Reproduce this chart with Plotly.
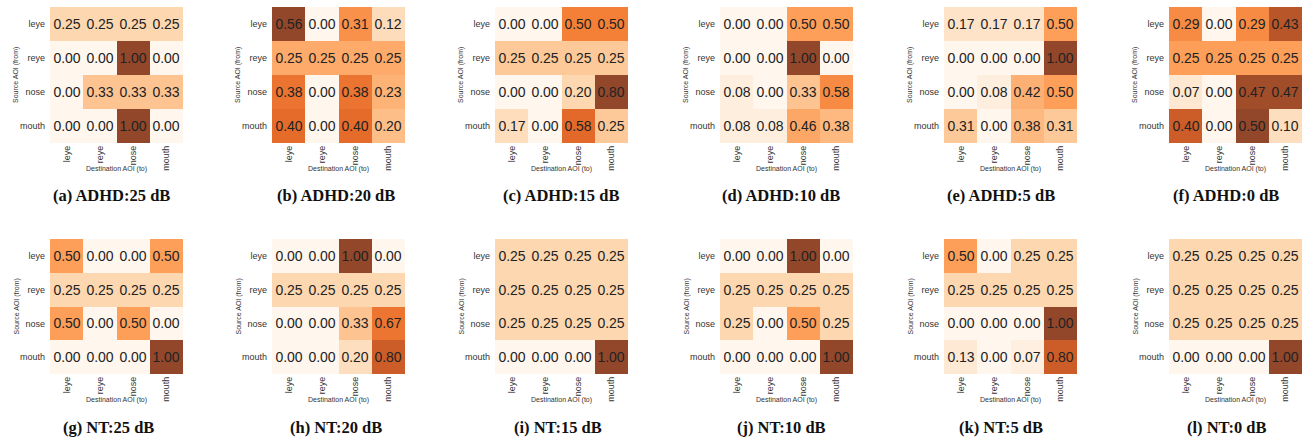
import plotly.graph_objects as go

aois = ["leye", "reye", "nose", "mouth"]
captions = ["(a) ADHD:25 dB", "(b) ADHD:20 dB", "(c) ADHD:15 dB", "(d) ADHD:10 dB",
            "(e) ADHD:5 dB", "(f) ADHD:0 dB",
            "(g) NT:25 dB", "(h) NT:20 dB", "(i) NT:15 dB", "(j) NT:10 dB",
            "(k) NT:5 dB", "(l) NT:0 dB"]

adhd_25 = [[.25, .25, .25, .25], [0, 0, 1, 0], [0, .33, .33, .33], [0, 0, 1, 0]]
adhd_20 = [[.56, 0, .31, .12], [.25, .25, .25, .25], [.38, 0, .38, .23], [.40, 0, .40, .20]]
adhd_15 = [[0, 0, .50, .50], [.25, .25, .25, .25], [0, 0, .20, .80], [.17, 0, .58, .25]]
adhd_10 = [[0, 0, .50, .50], [0, 0, 1, 0], [.08, 0, .33, .58], [.08, .08, .46, .38]]
adhd_5 = [[.17, .17, .17, .50], [0, 0, 0, 1], [0, .08, .42, .50], [.31, 0, .38, .31]]
adhd_0 = [[.29, 0, .29, .43], [.25, .25, .25, .25], [.07, 0, .47, .47], [.40, 0, .50, .10]]
nt_25 = [[.50, 0, 0, .50], [.25, .25, .25, .25], [.50, 0, .50, 0], [0, 0, 0, 1]]
nt_20 = [[0, 0, 1, 0], [.25, .25, .25, .25], [0, 0, .33, .67], [0, 0, .20, .80]]
nt_15 = [[.25, .25, .25, .25], [.25, .25, .25, .25], [.25, .25, .25, .25], [0, 0, 0, 1]]
nt_10 = [[0, 0, 1, 0], [.25, .25, .25, .25], [.25, 0, .50, .25], [0, 0, 0, 1]]
nt_5 = [[.50, 0, .25, .25], [.25, .25, .25, .25], [0, 0, 0, 1], [.13, 0, .07, .80]]
nt_0 = [[.25, .25, .25, .25], [.25, .25, .25, .25], [.25, .25, .25, .25], [0, 0, 0, 1]]

matrices = [adhd_25, adhd_20, adhd_15, adhd_10, adhd_5, adhd_0,
            nt_25, nt_20, nt_15, nt_10, nt_5, nt_0]

# Oranges blended with white (alpha)
oranges = ["#fff5eb", "#fee6ce", "#fdd0a2", "#fdae6b", "#fd8d3c",
           "#f16913", "#d94801", "#a63603", "#7f2704"]
alpha = 0.85


def blend(h):
    r, g, b = int(h[1:3], 16), int(h[3:5], 16), int(h[5:7], 16)
    f = lambda c: round(alpha * c + (1 - alpha) * 255)
    return f"rgb({f(r)},{f(g)},{f(b)})"


cscale = [[i / 8, blend(c)] for i, c in enumerate(oranges)]

W, H = 1302, 438
lefts = [50, 272, 495, 720, 944, 1169]
cap_x = [[111, 336, 561, 781, 1001, 1226], [108, 336, 558, 781, 1001, 1226]]
hw = 133
rows = [(7, 143), (239, 374)]
cap_y = [195, 427]


def px(v):
    return v / W


def py(v):
    return 1 - v / H


fig = go.Figure()
annotations = []
for k, (m, cap) in enumerate(zip(matrices, captions)):
    r, c = divmod(k, 6)
    idx = k + 1
    xa = "x" if idx == 1 else f"x{idx}"
    ya = "y" if idx == 1 else f"y{idx}"
    fig.add_trace(go.Heatmap(
        z=m, x=aois, y=aois, colorscale=cscale, showscale=False,
        texttemplate="%{z:.2f}",
        textfont=dict(size=14, color="#222", family="Liberation Sans, Arial"),
        xaxis=xa, yaxis=ya, hoverinfo="skip"))
    x0, x1 = lefts[c], lefts[c] + hw
    y0, y1 = rows[r]
    xkey = "xaxis" if idx == 1 else f"xaxis{idx}"
    ykey = "yaxis" if idx == 1 else f"yaxis{idx}"
    fig.layout[xkey] = dict(domain=[max(px(x0), 0), min(px(x1), 1)], anchor=ya,
                            tickangle=-90, showgrid=False, zeroline=False,
                            showline=False, ticks="",
                            tickfont=dict(size=9, color="#333", family="Liberation Sans, Arial"),
                            categoryorder="array", categoryarray=aois, fixedrange=True)
    fig.layout[ykey] = dict(domain=[max(py(y1), 0), min(py(y0), 1)], anchor=xa,
                            autorange="reversed", showgrid=False, zeroline=False,
                            showline=False, ticks="",
                            tickfont=dict(size=9, color="#333", family="Liberation Sans, Arial"),
                            ticklabelstandoff=4, fixedrange=True)
    annotations.append(dict(text="Destination AOI (to)", x=px((x0 + x1) / 2),
                            y=py(y1 + 26), xref="paper", yref="paper",
                            showarrow=False, xanchor="center", yanchor="middle",
                            font=dict(size=7, color="#333", family="Liberation Sans, Arial")))
    annotations.append(dict(text="Source AOI (from)", x=px(x0 - 34),
                            y=py((y0 + y1) / 2), xref="paper", yref="paper",
                            showarrow=False, xanchor="center", yanchor="middle",
                            textangle=-90,
                            font=dict(size=7, color="#333", family="Liberation Sans, Arial")))
    annotations.append(dict(text=f"<b>{cap}</b>", x=px(cap_x[r][c]),
                            y=py(cap_y[r]), xref="paper", yref="paper",
                            showarrow=False, xanchor="center", yanchor="middle",
                            font=dict(size=16.5, color="#111", family="Liberation Serif, Times New Roman")))

fig.update_layout(width=W, height=H, margin=dict(l=0, r=0, t=0, b=0),
                  paper_bgcolor="white", plot_bgcolor="white",
                  annotations=annotations)
fig.write_html("out.html", config={"displayModeBar": False, "staticPlot": True},
               post_script="document.body.style.margin='0';"
                           "document.documentElement.style.overflow='hidden';"
                           "document.body.style.overflow='hidden';")
